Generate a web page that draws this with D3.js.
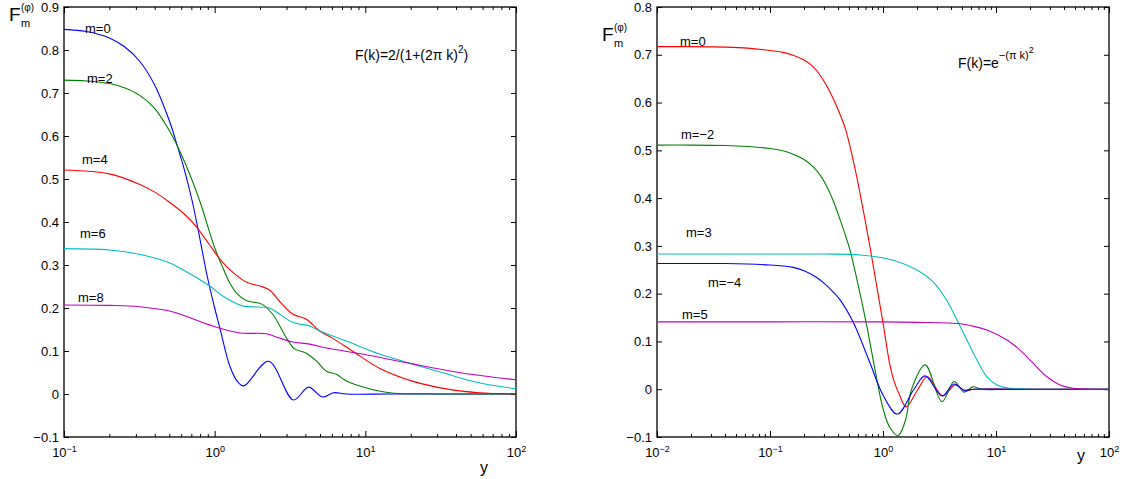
<!DOCTYPE html>
<html>
<head>
<meta charset="utf-8">
<script src="https://cdn.jsdelivr.net/npm/d3@7"></script>
<style>
body{margin:0;background:#fff;}
svg{font-family:"Liberation Sans",Arial,Helvetica,sans-serif;}
.axis line{stroke:#000;}
.axis text{font-size:13px;fill:#000;font-family:"Liberation Sans",Arial,sans-serif;}
.curve{fill:none;stroke-width:1.1;}
</style>
</head>
<body>
<svg id="chart" width="1122" height="479"></svg>
<script>
// ---- left panel: F(k)=2/(1+(2πk)^2), points are [y, F]
const left_m0 = [[0.1,0.848],[0.141,0.843],[0.2,0.828],[0.251,0.808],[0.316,0.775],[0.398,0.72],[0.501,0.635],[0.562,0.58],[0.631,0.52],[0.708,0.45],[0.794,0.365],[0.891,0.275],[1,0.2],[1.08,0.155],[1.26,0.065],[1.41,0.03],[1.56,0.019],[2.28,0.076],[3.33,-0.014],[4.2,0.016],[5.19,-0.007],[6.14,0.003],[7.5,0],[15,0],[100,0]];
const left_m2 = [[0.1,0.730],[0.141,0.728],[0.2,0.722],[0.251,0.712],[0.316,0.695],[0.398,0.665],[0.501,0.612],[0.631,0.54],[0.794,0.45],[1,0.34],[1.12,0.298],[1.26,0.258],[1.41,0.233],[1.63,0.217],[2.05,0.209],[2.42,0.186],[3.0,0.130],[3.39,0.105],[4.06,0.095],[4.73,0.077],[5.52,0.053],[6.43,0.046],[7.48,0.030],[10.2,0.014],[14.5,0.003],[25,0.0005],[100,0]];
const left_m4 = [[0.1,0.521],[0.2,0.512],[0.316,0.488],[0.398,0.47],[0.501,0.446],[0.631,0.418],[0.759,0.388],[0.912,0.35],[1.11,0.309],[1.35,0.28],[1.63,0.26],[2.0,0.251],[2.31,0.242],[2.69,0.216],[3.29,0.186],[4.06,0.174],[4.95,0.147],[6.04,0.130],[8.2,0.100],[12.4,0.060],[20.5,0.030],[34.4,0.012],[56.9,0.003],[100,0.0005]];
const left_m6 = [[0.1,0.338],[0.2,0.335],[0.316,0.325],[0.501,0.305],[0.586,0.293],[0.927,0.251],[1.13,0.228],[1.53,0.205],[2.31,0.200],[2.69,0.186],[3.29,0.167],[4.26,0.158],[4.95,0.147],[7.48,0.123],[12.4,0.093],[20.5,0.070],[34.4,0.047],[56.9,0.026],[100,0.012]];
const left_m8 = [[0.1,0.207],[0.2,0.206],[0.316,0.203],[0.501,0.193],[0.586,0.186],[0.971,0.158],[1.47,0.142],[2.21,0.140],[2.69,0.130],[3.29,0.121],[4.26,0.116],[5.52,0.107],[9.55,0.093],[20.5,0.070],[43.9,0.049],[100,0.033]];

// ---- right panel: F(k)=exp(-(πk)^2)
const right_m0 = [[0.01,0.717],[0.02,0.717],[0.04,0.716],[0.063,0.714],[0.1,0.709],[0.13,0.705],[0.16,0.699],[0.2,0.689],[0.24,0.675],[0.28,0.656],[0.319,0.634],[0.365,0.607],[0.417,0.575],[0.465,0.545],[0.511,0.508],[0.565,0.462],[0.625,0.411],[0.767,0.298],[0.871,0.222],[1,0.139],[1.153,0.05],[1.26,0.015],[1.39,-0.01],[1.6,-0.037],[2.04,0],[2.47,0.026],[3.39,-0.014],[4.34,0.009],[5.32,-0.003],[6.31,0],[15,0],[100,0]];
const right_mneg2 = [[0.01,0.511],[0.02,0.511],[0.04,0.510],[0.063,0.508],[0.1,0.504],[0.13,0.499],[0.16,0.492],[0.2,0.481],[0.24,0.466],[0.28,0.447],[0.319,0.424],[0.365,0.393],[0.417,0.355],[0.465,0.322],[0.511,0.291],[0.625,0.201],[0.721,0.131],[0.851,0.04],[1.0,-0.04],[1.15,-0.08],[1.36,-0.097],[1.58,-0.065],[1.79,0],[2.36,0.051],[3.33,-0.026],[4.25,0.016],[5.21,-0.006],[6.25,0.005],[7.4,0],[15,0],[100,0]];
const right_m3 = [[0.01,0.283],[0.1,0.283],[0.3,0.283],[0.63,0.281],[1.23,0.27],[2.12,0.246],[2.77,0.225],[3.68,0.185],[4.52,0.145],[5.53,0.103],[6.79,0.061],[8.32,0.026],[10.2,0.009],[13.2,0.002],[20,0],[100,0]];
const right_mneg4 = [[0.01,0.263],[0.02,0.263],[0.04,0.263],[0.063,0.262],[0.1,0.26],[0.13,0.258],[0.16,0.255],[0.2,0.248],[0.259,0.234],[0.3,0.222],[0.361,0.204],[0.417,0.187],[0.543,0.141],[0.767,0.055],[1.0,-0.012],[1.34,-0.052],[1.88,0],[2.36,0.028],[3.33,-0.014],[4.25,0.011],[5.21,-0.002],[6.3,0],[15,0],[100,0]];
const right_m5 = [[0.01,0.141],[0.1,0.141],[1,0.141],[2.0,0.140],[4.8,0.137],[6.25,0.132],[8.32,0.124],[12.5,0.103],[16.3,0.082],[21.2,0.055],[28.2,0.026],[36.8,0.009],[48,0.002],[70,0],[100,0]];

const leftYTicks = [-0.1,0,0.1,0.2,0.3,0.4,0.5,0.6,0.7,0.8,0.9];
const rightYTicks = [-0.1,0,0.1,0.2,0.3,0.4,0.5,0.6,0.7,0.8];
const leftXTicks = [0.1,1,10,100];
const rightXTicks = [0.01,0.1,1,10,100];

const svg = d3.select('#chart');
const plotTop = 7, plotBottom = 437;

function minorTicks(domain){
    const out = [];
    let p = Math.round(Math.log10(domain[0]));
    const pEnd = Math.round(Math.log10(domain[1]));
    for(; p < pEnd; p++){
        for(let k=2;k<=9;k++) out.push(k*Math.pow(10,p));
    }
    return out;
}

function drawPanel(cfg){
    const g = svg.append('g');
    const x = d3.scaleLog().domain(cfg.xDomain).range([cfg.x0, cfg.x1]);
    const y = d3.scaleLinear().domain(cfg.yDomain).range([plotBottom, plotTop]);

    const clipId = 'clip' + cfg.id;
    svg.append('clipPath').attr('id', clipId).append('rect')
        .attr('x', cfg.x0).attr('y', plotTop).attr('width', cfg.x1-cfg.x0).attr('height', plotBottom-plotTop);

    const yFmt = d => d === 0 ? '0' : d3.format('.1f')(d);

    // major / minor x ticks, bottom and top, pointing in
    const xb = g.append('g').attr('class','axis').attr('transform',`translate(0,${plotBottom})`)
        .call(d3.axisBottom(x).tickValues(cfg.xTicks).tickSizeInner(-6).tickSizeOuter(0).tickPadding(11));
    xb.selectAll('.tick text').each(function(d){
        const t = d3.select(this).text(null);
        const e = Math.round(Math.log10(d));
        t.append('tspan').text('10');
        t.append('tspan').attr('dy','-0.6em').style('font-size','9px').text(d3.format('d')(e));
    });
    g.append('g').attr('class','axis').attr('transform',`translate(0,${plotBottom})`)
        .call(d3.axisBottom(x).tickValues(minorTicks(cfg.xDomain)).tickSizeInner(-3).tickSizeOuter(0).tickFormat(''));
    g.append('g').attr('class','axis').attr('transform',`translate(0,${plotTop})`)
        .call(d3.axisTop(x).tickValues(cfg.xTicks).tickSizeInner(-6).tickSizeOuter(0).tickFormat(''));
    g.append('g').attr('class','axis').attr('transform',`translate(0,${plotTop})`)
        .call(d3.axisTop(x).tickValues(minorTicks(cfg.xDomain)).tickSizeInner(-3).tickSizeOuter(0).tickFormat(''));

    // y ticks left (labelled) and right
    g.append('g').attr('class','axis').attr('transform',`translate(${cfg.x0},0)`)
        .call(d3.axisLeft(y).tickValues(cfg.yTicks).tickSizeInner(-5).tickSizeOuter(0).tickPadding(5).tickFormat(yFmt));
    g.append('g').attr('class','axis').attr('transform',`translate(${cfg.x1},0)`)
        .call(d3.axisRight(y).tickValues(cfg.yTicks).tickSizeInner(-5).tickSizeOuter(0).tickFormat(''));
    g.selectAll('.axis .domain').remove();

    g.append('rect').attr('x',cfg.x0).attr('y',plotTop).attr('width',cfg.x1-cfg.x0).attr('height',plotBottom-plotTop)
        .attr('fill','none').attr('stroke','#000').attr('stroke-width',1.3);

    const line = d3.line().x(d=>x(d[0])).y(d=>y(d[1])).curve(d3.curveCatmullRom.alpha(0.5));
    g.append('g').attr('clip-path',`url(#${clipId})`).selectAll('path')
        .data(cfg.series).join('path')
        .attr('class','curve')
        .attr('stroke', d=>d.color)
        .attr('d', d=>line(d.values));

    // curve labels
    g.selectAll('.lbl').data(cfg.series).join('text')
        .attr('class','lbl')
        .attr('x', d=>d.lx).attr('y', d=>d.ly)
        .style('font-size','13px')
        .text(d=>d.label);

    // axis name y
    g.append('text').attr('x', cfg.yLabelX).attr('y', cfg.yLabelY).style('font-size','16px').text('y');

    // F_m^(φ)
    const fx = cfg.fX, fy = cfg.fY;
    g.append('text').attr('x',fx).attr('y',fy).style('font-size','19px').text('F');
    g.append('text').attr('x',fx+12).attr('y',fy-10).style('font-size','10px').text('(φ)');
    g.append('text').attr('x',fx+12).attr('y',fy+6).style('font-size','11px').text('m');
    return g;
}

const leftPanel = drawPanel({
    id:'L', x0:64, x1:516, xDomain:[0.1,100], yDomain:[-0.1,0.9],
    xTicks:leftXTicks, yTicks:leftYTicks,
    yLabelX:480, yLabelY:473, fX:9, fY:21,
    series:[
        {label:'m=0', values:left_m0, color:'#0000ff', lx:85, ly:33},
        {label:'m=2', values:left_m2, color:'#008000', lx:87, ly:83},
        {label:'m=4', values:left_m4, color:'#ff0000', lx:82, ly:164},
        {label:'m=6', values:left_m6, color:'#00bfbf', lx:80, ly:238},
        {label:'m=8', values:left_m8, color:'#bf00bf', lx:78, ly:302}
    ]
});
const f1 = leftPanel.append('text').attr('x',355).attr('y',60).style('font-size','14px');
f1.append('tspan').text('F(k)=2/(1+(2π k)');
f1.append('tspan').attr('dy',-7).style('font-size','10px').text('2');
f1.append('tspan').attr('dy',7).text(')');

const rightPanel = drawPanel({
    id:'R', x0:657, x1:1109, xDomain:[0.01,100], yDomain:[-0.1,0.8],
    xTicks:rightXTicks, yTicks:rightYTicks,
    yLabelX:1077, yLabelY:461, fX:602, fY:41,
    series:[
        {label:'m=0', values:right_m0, color:'#ff0000', lx:680, ly:46},
        {label:'m=\u22122', values:right_mneg2, color:'#008000', lx:681, ly:139},
        {label:'m=3', values:right_m3, color:'#00bfbf', lx:686, ly:237},
        {label:'m=\u22124', values:right_mneg4, color:'#0000ff', lx:708, ly:287},
        {label:'m=5', values:right_m5, color:'#bf00bf', lx:682, ly:319}
    ]
});
const f2 = rightPanel.append('text').attr('x',958).attr('y',68).style('font-size','14px');
f2.append('tspan').text('F(k)=e');
f2.append('tspan').attr('dy',-9).style('font-size','11px').text('\u2212(π k)');
f2.append('tspan').attr('dy',-6).style('font-size','9px').text('2');
</script>
</body>
</html>
